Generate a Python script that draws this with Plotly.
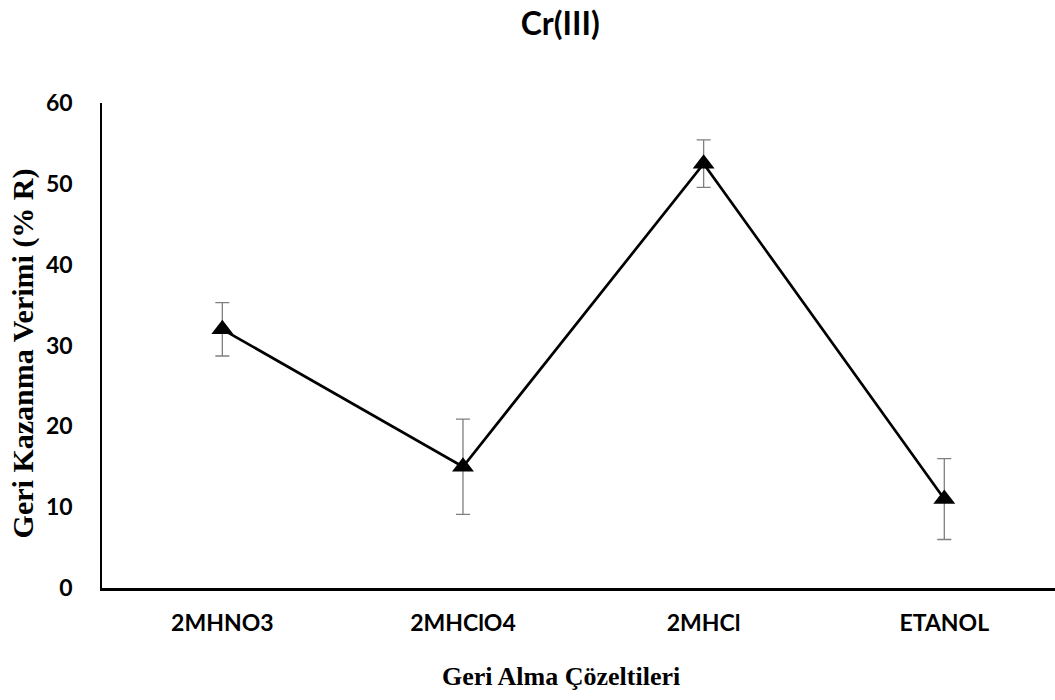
import plotly.graph_objects as go

# Recovery solutions and their mean recovery (%) with standard deviations
categories = ["2MHNO3", "2MHClO4", "2MHCl", "ETANOL"]
tick_labels = ["2MHNO3", "2MHClO4", "2MHCl", "ETANOL"]
recovery = [32.0, 15.0, 52.5, 11.0]
recovery_sd = [3.3, 5.9, 2.95, 5.0]
y_ticks = [0, 10, 20, 30, 40, 50, 60]

fig = go.Figure()
fig.add_trace(go.Scatter(
    x=categories,
    y=recovery,
    mode="lines+markers",
    line=dict(color="black", width=2.7),
    marker=dict(symbol="triangle-up", size=19, color="black"),
    error_y=dict(type="data", array=recovery_sd, visible=True,
                 color="#7f7f7f", thickness=1.3, width=7),
    showlegend=False,
))

tick_font = dict(family="Lato", size=23, color="black", weight="bold")

fig.update_layout(
    width=1055, height=700,
    margin=dict(l=102, r=0, t=103, b=112),
    paper_bgcolor="white", plot_bgcolor="white",
    title=dict(text="Cr(III)", x=0.531, xanchor="center", y=0.966, yanchor="middle",
               font=dict(family="Lato", size=32, color="black", weight="bold")),
    xaxis=dict(
        type="category", categoryorder="array", categoryarray=categories,
        tickvals=categories, ticktext=tick_labels,
        range=[-0.5, 3.46], showgrid=False, zeroline=False,
        showline=True, linecolor="black", linewidth=2.5,
        ticks="", tickfont=tick_font, ticklabelstandoff=13,
    ),
    yaxis=dict(
        range=[0, 60], tickvals=y_ticks, showgrid=False, zeroline=False,
        showline=True, linecolor="black", linewidth=1.5,
        ticks="", tickfont=tick_font, ticklabelstandoff=23,
    ),
    annotations=[
        dict(text="Geri Alma Çözeltileri", xref="paper", yref="paper",
             x=0.482, y=-0.183, xanchor="center", yanchor="middle",
             showarrow=False,
             font=dict(family="Liberation Serif", size=26, color="black", weight="bold")),
        dict(text="Geri Kazanma Verimi (% R)", xref="paper", yref="paper",
             x=-0.083, y=0.4835, xanchor="center", yanchor="middle", textangle=-90,
             showarrow=False,
             font=dict(family="Liberation Serif", size=30, color="black", weight="bold")),
    ],
)

fig.write_html("out.html")
